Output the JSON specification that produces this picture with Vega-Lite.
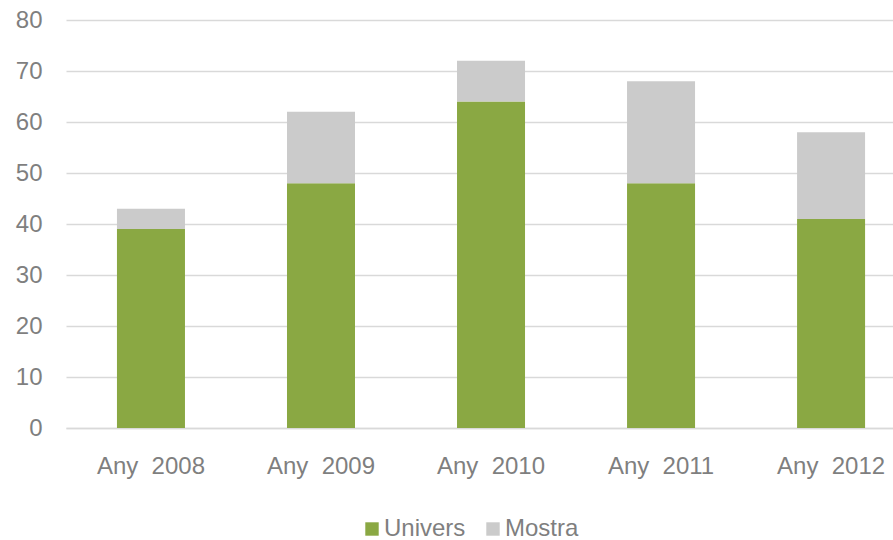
{
  "$schema": "https://vega.github.io/schema/vega-lite/v6.json",
  "width": 827,
  "height": 408,
  "autosize": {"type": "none"},
  "padding": {"left": 66, "top": 20, "right": 0, "bottom": 112},
  "background": "white",
  "config": {
    "font": "Liberation Sans",
    "view": {"stroke": null}
  },
  "data": {
    "values": [
      {"any": "Any\u00a0\u00a02008", "series": "Univers", "value": 39},
      {"any": "Any\u00a0\u00a02008", "series": "Mostra", "value": 4},
      {"any": "Any\u00a0\u00a02009", "series": "Univers", "value": 48},
      {"any": "Any\u00a0\u00a02009", "series": "Mostra", "value": 14},
      {"any": "Any\u00a0\u00a02010", "series": "Univers", "value": 64},
      {"any": "Any\u00a0\u00a02010", "series": "Mostra", "value": 8},
      {"any": "Any\u00a0\u00a02011", "series": "Univers", "value": 48},
      {"any": "Any\u00a0\u00a02011", "series": "Mostra", "value": 20},
      {"any": "Any\u00a0\u00a02012", "series": "Univers", "value": 41},
      {"any": "Any\u00a0\u00a02012", "series": "Mostra", "value": 17}
    ]
  },
  "mark": {"type": "bar"},
  "encoding": {
    "x": {
      "field": "any",
      "type": "nominal",
      "sort": null,
      "scale": {"paddingInner": 0.6, "paddingOuter": 0.232, "align": 0.646},
      "axis": {
        "title": null,
        "labelAngle": 0,
        "labelFontSize": 24,
        "labelColor": "#7f7f7f",
        "labelPadding": 26,
        "ticks": false,
        "domainColor": "#d9d9d9",
        "domainWidth": 1.5,
        "grid": false
      }
    },
    "y": {
      "field": "value",
      "type": "quantitative",
      "stack": "zero",
      "scale": {"domain": [0, 80], "nice": false},
      "axis": {
        "title": null,
        "values": [0, 10, 20, 30, 40, 50, 60, 70, 80],
        "labelFontSize": 24,
        "labelColor": "#7f7f7f",
        "labelPadding": 24,
        "ticks": false,
        "domain": false,
        "gridColor": "#d9d9d9",
        "gridWidth": 1.5
      }
    },
    "color": {
      "field": "series",
      "type": "nominal",
      "scale": {"domain": ["Univers", "Mostra"], "range": ["#8aa843", "#cbcbcb"]},
      "legend": {
        "title": null,
        "orient": "none",
        "direction": "horizontal",
        "legendX": 294,
        "legendY": 497,
        "symbolType": "square",
        "symbolSize": 180,
        "symbolStrokeWidth": 0,
        "labelFontSize": 24,
        "labelColor": "#7f7f7f",
        "labelOffset": 0,
        "columnPadding": 15
      }
    },
    "order": {"field": "series", "sort": "descending"}
  }
}
